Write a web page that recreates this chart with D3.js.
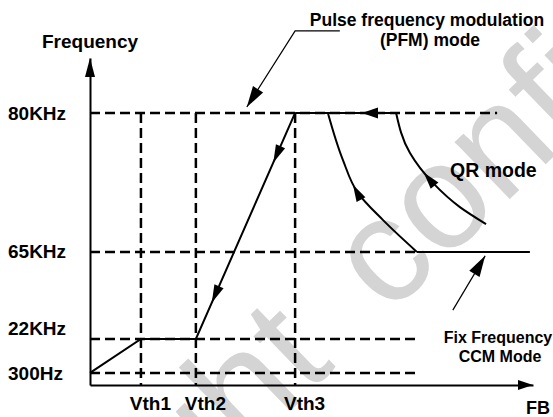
<!DOCTYPE html>
<html>
<head>
<meta charset="utf-8">
<script src="https://cdn.jsdelivr.net/npm/d3@7"></script>
<style>
  body { margin: 0; background: #fff; }
  svg { display: block; }
  text { font-family: 'Liberation Sans', Arial, sans-serif; font-weight: bold; fill: #000; }
</style>
</head>
<body>
<svg id="chart" width="553" height="417"></svg>
<script>
// Schematic diagram: both axes in arbitrary 0-100 units (the picture is not to scale).
const freqLabels = ['300Hz', '22KHz', '65KHz', '80KHz'];
const freqLevels = [3.7, 14.1, 40.7, 83.2];
const freqDashEnd = [74.0, 74.0, 73.8, 91.9];

const vthLabels = ['Vth1', 'Vth2', 'Vth3'];
const vthLevels = [11.5, 23.9, 46.3];

// 300Hz -> 22KHz at Vth1, flat to Vth2, ramp up to 80KHz at Vth3
const traceFB = [0, 11.5, 23.9, 46.3];
const traceFreq = [3.7, 14.1, 14.1, 83.2];

const pfmSpan = [69.3, 46.3]; // solid part of the 80KHz line, drawn right to left
const ccmSpan = [73.8, 99.3]; // solid part of the 65KHz line

// QR mode curves, from bottom to top
const qr1FB = [73.8, 66.1, 60.5, 57.1, 53.7];
const qr1Freq = [40.7, 50.5, 58.7, 68.8, 83.2];
const qr2FB = [89.4, 83.5, 77.4, 72.2, 69.1];
const qr2Freq = [49.2, 54.4, 61.8, 71.0, 83.2];

const svg = d3.select('#chart');

const x = d3.scaleLinear().domain([0, 100]).range([90, 533]);
const y = d3.scaleLinear().domain([0, 100]).range([385, 58]);

// watermark
svg.append('text')
  .attr('transform', 'translate(-125,812) rotate(-44)')
  .attr('font-size', 150)
  .style('font-weight', 'normal')
  .style('word-spacing', '30px')
  .style('fill', '#d4d4d4')
  .text('Copyright confidential');

const g = svg.append('g');

function arrowHead(from, to, size = 17, half = 5) {
  const ang = Math.atan2(to[1] - from[1], to[0] - from[0]) * 180 / Math.PI;
  g.append('path')
    .attr('d', `M0,0L${-size},${-half}L${-size},${half}Z`)
    .attr('transform', `translate(${to[0]},${to[1]}) rotate(${ang})`)
    .attr('fill', '#000');
}

function arrowOnPath(node, frac, size = 17, half = 5) {
  const len = node.getTotalLength();
  const p = node.getPointAtLength(len * frac);
  const q = node.getPointAtLength(len * frac - 2);
  arrowHead([q.x, q.y], [p.x, p.y], size, half);
}

// dashed guides
g.append('g')
  .selectAll('line')
  .data(freqLevels)
  .join('line')
  .attr('x1', x(0))
  .attr('x2', (d, i) => x(freqDashEnd[i]))
  .attr('y1', (d) => y(d))
  .attr('y2', (d) => y(d))
  .attr('stroke', '#000')
  .attr('stroke-width', 2.5)
  .attr('stroke-dasharray', '10,5');

g.append('g')
  .selectAll('line')
  .data(vthLevels)
  .join('line')
  .attr('x1', (d) => x(d))
  .attr('x2', (d) => x(d))
  .attr('y1', y(freqLevels[3]))
  .attr('y2', y(0))
  .attr('stroke', '#000')
  .attr('stroke-width', 2.5)
  .attr('stroke-dasharray', '10,5');

// axes
const yAxis = g.append('g')
  .attr('transform', `translate(${x(0)},0)`)
  .call(d3.axisLeft(y).tickValues(freqLevels).tickFormat((d, i) => freqLabels[i]).tickSize(0).tickSizeOuter(0));

const labelNudge = [1, -10, 0, 1];
yAxis.selectAll('text')
  .attr('x', 8 - x(0))
  .attr('dy', (d, i) => 6 + labelNudge[i])
  .attr('text-anchor', 'start')
  .attr('font-size', 19)
  .attr('font-family', null);

const xAxis = g.append('g')
  .attr('transform', `translate(0,${y(0)})`)
  .call(d3.axisBottom(x).tickValues(vthLevels).tickFormat((d, i) => vthLabels[i]).tickSize(0).tickSizeOuter(0).tickPadding(12));

xAxis.selectAll('text')
  .attr('dx', 9)
  .attr('font-size', 19)
  .attr('font-family', null);

g.selectAll('.domain').attr('stroke', '#000').attr('stroke-width', 2);

arrowHead([x(0), y(0)], [x(0), y(100)], 19, 5);
arrowHead([x(0), y(0)], [x(100), y(0)], 15, 5);

g.append('text')
  .attr('x', x(0))
  .attr('y', y(100) - 10)
  .attr('text-anchor', 'middle')
  .attr('font-size', 19)
  .text('Frequency');

g.append('text')
  .attr('x', x(100) + 17)
  .attr('y', y(0) + 29)
  .attr('text-anchor', 'end')
  .attr('font-size', 18)
  .text('FB');

// solid traces
const line = d3.line().x((d) => x(d[0])).y((d) => y(d[1]));

g.append('path')
  .attr('d', line(d3.zip(traceFB, traceFreq)))
  .attr('fill', 'none')
  .attr('stroke', '#000')
  .attr('stroke-width', 2);

const rampTop = [x(traceFB[3]), y(traceFreq[3])];
const rampBottom = [x(traceFB[2]), y(traceFreq[2])];
const ramp = d3.interpolate(rampTop, rampBottom);
[0.22, 0.84].forEach((t) => arrowHead(rampTop, ramp(t), 18, 5));

g.append('path')
  .attr('d', line(pfmSpan.map((d) => [d, freqLevels[3]])))
  .attr('stroke', '#000')
  .attr('stroke-width', 2);
arrowHead([x(pfmSpan[0]), y(freqLevels[3])], [x(pfmSpan[0] - 7.9), y(freqLevels[3])], 16, 5.5);

g.append('path')
  .attr('d', line(ccmSpan.map((d) => [d, freqLevels[2]])))
  .attr('stroke', '#000')
  .attr('stroke-width', 2);

const curve = d3.line().x((d) => x(d[0])).y((d) => y(d[1])).curve(d3.curveMonotoneY);
[[qr1FB, qr1Freq, 0.55], [qr2FB, qr2Freq, 0.55]].forEach(([fb, fr, frac]) => {
  const p = g.append('path')
    .attr('d', curve(d3.zip(fb, fr)))
    .attr('fill', 'none')
    .attr('stroke', '#000')
    .attr('stroke-width', 2);
  arrowOnPath(p.node(), frac, 17, 5);
});

// PFM annotation
const pfmLeader = [[56.4, 108.3], [46.3, 108.3], [35.4, 85.0]];
g.append('path')
  .attr('d', line(pfmLeader))
  .attr('fill', 'none')
  .attr('stroke', '#000')
  .attr('stroke-width', 1.2);
arrowHead([x(46.3), y(108.3)], [x(35.4), y(85.0)], 21, 6);

g.append('text')
  .attr('x', 427)
  .attr('y', 26)
  .attr('text-anchor', 'middle')
  .attr('font-size', 17.5)
  .text('Pulse frequency modulation');
g.append('text')
  .attr('x', 430)
  .attr('y', 46)
  .attr('text-anchor', 'middle')
  .attr('font-size', 17.5)
  .text('(PFM) mode');

g.append('text')
  .attr('x', 450)
  .attr('y', 177)
  .attr('font-size', 19.5)
  .text('QR mode');

// CCM annotation
const ccmLeader = [[81.9, 22.9], [89.2, 39.5]];
g.append('path')
  .attr('d', line(ccmLeader))
  .attr('stroke', '#000')
  .attr('stroke-width', 1.2);
arrowHead([x(81.9), y(22.9)], [x(89.2), y(39.5)], 21, 6);

g.append('text')
  .attr('x', 498)
  .attr('y', 343)
  .attr('text-anchor', 'middle')
  .attr('font-size', 16)
  .text('Fix Frequency');
g.append('text')
  .attr('x', 500)
  .attr('y', 362)
  .attr('text-anchor', 'middle')
  .attr('font-size', 16)
  .text('CCM Mode');
</script>
</body>
</html>
